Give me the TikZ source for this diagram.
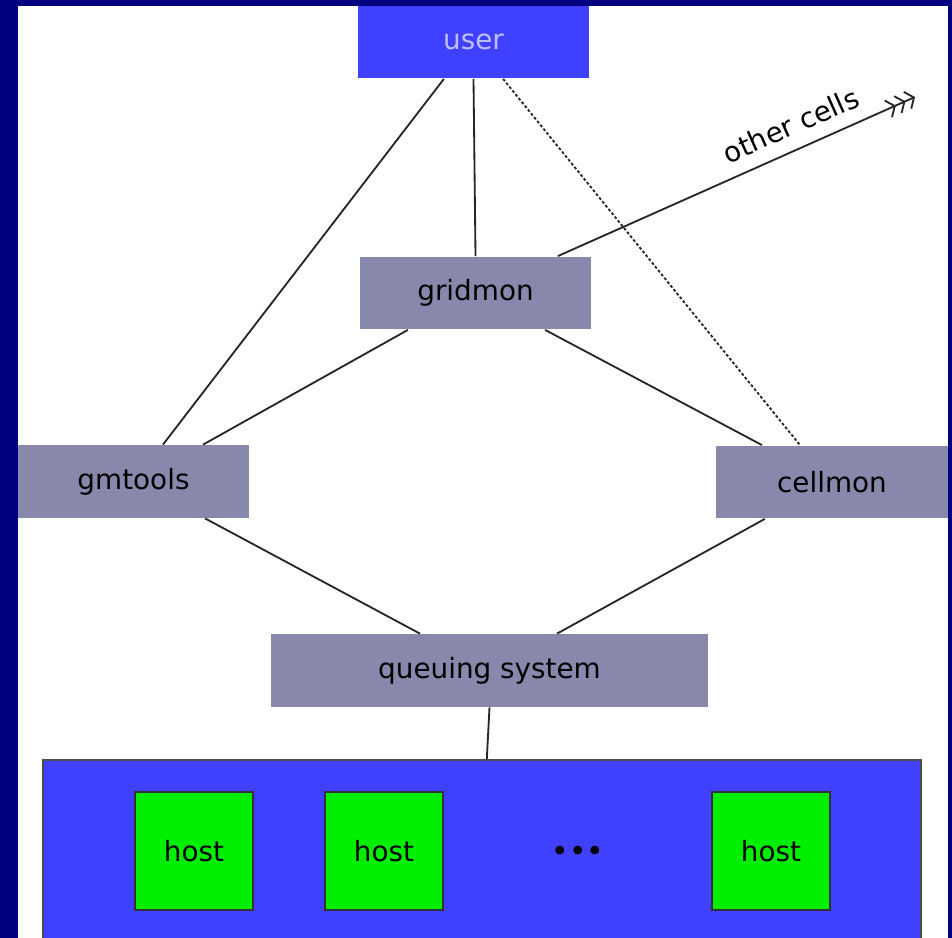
\documentclass[tikz,border=0pt]{standalone}
\usepackage{fontspec}
\setmainfont{DejaVu Sans}
\usetikzlibrary{arrows.meta}
\definecolor{navy}{RGB}{0,0,128}
\definecolor{boxblue}{RGB}{64,64,255}
\definecolor{slate}{RGB}{136,136,172}
\definecolor{hostgreen}{RGB}{0,238,0}
\definecolor{pale}{RGB}{190,190,255}

\begin{document}
\begin{tikzpicture}[x=0.025cm,y=-0.025cm,line width=1.3pt,
                    font=\fontsize{19.8}{24}\selectfont,
                    comp/.style={rectangle,fill=slate,minimum width=5.775cm,
                                 minimum height=1.8cm,inner sep=0pt},
                    hostbox/.style={rectangle,draw=black!80,fill=hostgreen,
                                    line width=1.4pt,minimum size=2.95cm,inner sep=0pt},
                    link/.style={draw=black!85},
                    barb/.tip={Straight Barb[length=5pt,width=13pt]}]

  \useasboundingbox (0,0) rectangle (952,938);
  \clip (0,0) rectangle (952,938);
  \fill[navy] (0,0) rectangle (952,938);
  \fill[white] (18,6) rectangle (948,938);

  \node[comp,fill=boxblue,text=pale] (user)    at (473.5,42)  {user};
  \node[comp]                        (gridmon) at (475.5,293) {gridmon};
  \node[comp]                        (gmtools) at (133.5,481.5) {gmtools};
  \node[comp]                        (cellmon) at (832,482)   {cellmon};
  \node[comp,minimum width=10.925cm] (queue)   at (489.5,670.5) {queuing system};

  \node[rectangle,draw=black!70,fill=boxblue,minimum width=21.95cm,
        minimum height=6cm,inner sep=0pt] (hosts) at (482,880) {};
  \node[hostbox] (h1) at (194,851) {host};
  \node[hostbox] (h2) at (384,851) {host};
  \node[hostbox] (h3) at (771,851) {host};
  \node[font=\fontsize{21}{24}\selectfont] (dots) at (578,854) {•••};

  \coordinate (out) at (915,97);

  \path[link] ([xshift=-0.74cm]user.south) edge (gmtools.north -| 163,0)
              (user.south)                 edge (gridmon.north)
              ([xshift=-1.69cm]gridmon.south) edge ([xshift=1.74cm]gmtools.north)
              ([xshift=1.74cm]gridmon.south)  edge ([xshift=-1.75cm]cellmon.north)
              ([xshift=1.79cm]gmtools.south)  edge ([xshift=-1.74cm]queue.north)
              ([xshift=-1.68cm]cellmon.south) edge ([xshift=1.69cm]queue.north)
              (queue.south)                   edge ([xshift=0.12cm]hosts.north);
  \draw[link,dash pattern=on 2pt off 1.5pt]
        ([xshift=0.74cm]user.south) -- ([xshift=-0.8cm]cellmon.north);
  \draw[link,-{barb[sep=1pt]barb[sep=1pt]barb}]
        ([xshift=2.06cm]gridmon.north) -- (out) node[pos=0.68,above=6pt,sloped] {other cells};
\end{tikzpicture}
\end{document}
